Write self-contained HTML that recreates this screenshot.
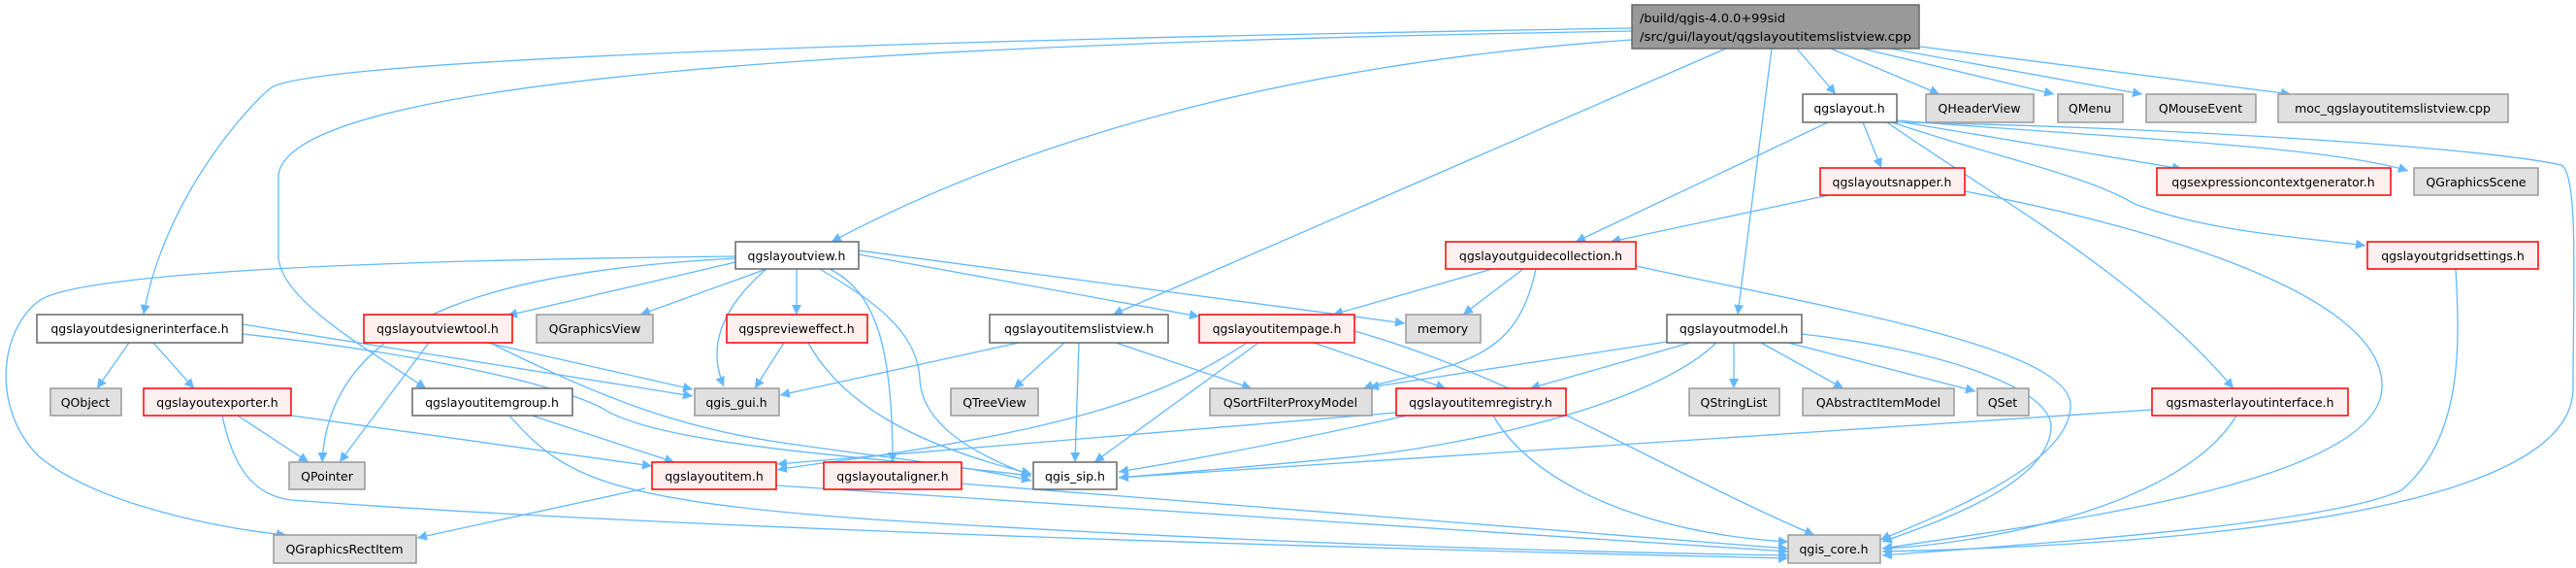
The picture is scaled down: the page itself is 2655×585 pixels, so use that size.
<!DOCTYPE html>
<html><head><meta charset="utf-8"><style>
html,body{margin:0;padding:0;background:#fff;}
svg{display:block;}
text{font-family:"DejaVu Sans","Liberation Sans",sans-serif;font-size:12.5px;fill:#000;}
.e{fill:none;stroke:#63b8ff;stroke-width:1.3;}
.w{fill:#fff;stroke:#666;stroke-width:1.5;}
.g{fill:#e0e0e0;stroke:#999;stroke-width:1.5;}
.r{fill:#fff0f0;stroke:#f00;stroke-width:1.5;}
.k{fill:#999;stroke:#666;stroke-width:1.5;}
</style></head><body>
<svg width="2655" height="585" viewBox="0 0 2655 585" xmlns="http://www.w3.org/2000/svg">
<defs><marker id="a" viewBox="0 0 10 10" refX="10" refY="5" markerWidth="10" markerHeight="10" markerUnits="userSpaceOnUse" orient="auto"><path d="M0,0 L10,5 L0,10 z" fill="#63b8ff"/></marker></defs>
<g class="e" marker-end="url(#a)">
<path d="M1682,29 C1000,40 330,60 280,90 C260,105 170,200 148,324"/>
<path d="M1682,32 C900,45 300,80 287,180 L287,265 C290,310 380,360 439,400"/>
<path d="M1682,41 C1400,60 1100,120 857,249"/>
<path d="M1779,50 L1147,324"/>
<path d="M1826,50 L1791,324"/>
<path d="M1852,50 L1892,97"/>
<path d="M1887,50 L1999,97"/>
<path d="M1919,50 L2117,97"/>
<path d="M1948,50 L2208,97"/>
<path d="M1979,48 L2361,97"/>
<path d="M1884,126 L1624,249"/>
<path d="M1920,126 L1939,173"/>
<path d="M1962,126 L2249,174"/>
<path d="M1955,124 C2150,140 2400,150 2482,176"/>
<path d="M1955,126 C2200,130 2550,150 2640,170 C2658,180 2652,300 2652,400 C2652,520 2300,560 1940,568"/>
<path d="M1950,126 C2050,160 2150,180 2200,210 C2280,240 2380,245 2438,253"/>
<path d="M1945,126 C2050,200 2200,280 2302,400"/>
<path d="M1885,201 L1660,249"/>
<path d="M2025,197 C2200,230 2460,300 2455,400 C2450,500 2100,540 1940,565"/>
<path d="M2531,277 C2535,350 2540,450 2475,505 C2400,540 2100,560 1940,572"/>
<path d="M2218,422 C1800,450 1400,475 1153,492"/>
<path d="M2305,428 C2250,520 2050,560 1940,565"/>
<path d="M1787,353 L1787,400"/>
<path d="M1815,353 L1900,400"/>
<path d="M1843,353 L2036,403"/>
<path d="M1857,344 C2000,360 2115,400 2114,440 C2112,500 1990,540 1940,558"/>
<path d="M1718,352 L1411,399"/>
<path d="M1742,353 L1577,400"/>
<path d="M1769,353 C1700,420 1500,460 1400,470 C1300,480 1200,488 1153,492"/>
<path d="M1538,277 L1374,324"/>
<path d="M1570,277 L1508,324"/>
<path d="M1583,277 C1570,340 1540,360 1500,375 C1450,390 1420,395 1405,400"/>
<path d="M1686,274 C1900,320 2140,360 2134,420 C2130,480 2000,530 1938,556"/>
<path d="M758,270 L523,325"/>
<path d="M790,277 L660,324"/>
<path d="M821,277 L821,324"/>
<path d="M790,277 C740,320 730,360 746,398"/>
<path d="M758,266 C500,280 340,330 332,476"/>
<path d="M758,264 C400,268 80,280 40,310 C0,340 -10,420 40,470 C100,520 230,545 295,551"/>
<path d="M885,258 L1448,333"/>
<path d="M885,262 L1236,326"/>
<path d="M855,277 C900,300 920,350 920,476"/>
<path d="M845,277 C900,310 945,340 948,390 C950,440 1010,470 1063,490"/>
<path d="M250,334 L714,408"/>
<path d="M250,344 C400,360 560,390 620,420 C680,460 900,470 1063,490"/>
<path d="M133,353 L100,400"/>
<path d="M158,353 L200,400"/>
<path d="M442,353 L350,476"/>
<path d="M502,353 L714,401"/>
<path d="M505,353 C620,410 700,440 800,455 C900,470 1000,480 1063,495"/>
<path d="M808,353 L778,400"/>
<path d="M833,353 C870,420 950,460 1063,488"/>
<path d="M245,428 L318,476"/>
<path d="M300,428 L672,480"/>
<path d="M229,428 C240,480 260,510 300,515 C700,545 1400,565 1843,575"/>
<path d="M548,428 L695,476"/>
<path d="M525,428 C580,490 620,515 900,535 C1300,560 1600,568 1843,572"/>
<path d="M665,503 L430,554"/>
<path d="M800,500 L1843,568"/>
<path d="M990,498 L1843,565"/>
<path d="M1050,353 L804,407"/>
<path d="M1097,353 L1045,400"/>
<path d="M1112,353 L1108,476"/>
<path d="M1150,353 L1290,400"/>
<path d="M1285,353 C1200,410 1100,440 900,470 C850,477 820,480 801,484"/>
<path d="M1297,353 L1128,476"/>
<path d="M1354,353 L1490,400"/>
<path d="M1396,341 C1500,370 1600,420 1700,470 C1760,500 1820,530 1870,551"/>
<path d="M1450,428 C1350,450 1250,470 1153,486"/>
<path d="M1439,425 L801,478"/>
<path d="M1539,428 C1580,500 1700,550 1843,558"/>
</g>
<g>
<rect class="k" x="1682" y="5" width="296" height="45"/>
<text x="1690" y="23" textLength="150" lengthAdjust="spacingAndGlyphs">/build/qgis-4.0.0+99sid</text>
<text x="1690" y="42" textLength="280" lengthAdjust="spacingAndGlyphs">/src/gui/layout/qgslayoutitemslistview.cpp</text>
</g>
<g text-anchor="middle">
<rect class="w" x="1858" y="97" width="97" height="29"/><text x="1906" y="116">qgslayout.h</text>
<rect class="g" x="1985" y="97" width="111" height="29"/><text x="2040" y="116">QHeaderView</text>
<rect class="g" x="2121" y="97" width="67" height="29"/><text x="2154" y="116">QMenu</text>
<rect class="g" x="2212" y="97" width="113" height="29"/><text x="2268" y="116">QMouseEvent</text>
<rect class="g" x="2348" y="97" width="237" height="29"/><text x="2466" y="116">moc_qgslayoutitemslistview.cpp</text>
<rect class="r" x="1876" y="173" width="149" height="28"/><text x="1950" y="192">qgslayoutsnapper.h</text>
<rect class="r" x="2223" y="173" width="241" height="28"/><text x="2343" y="192">qgsexpressioncontextgenerator.h</text>
<rect class="g" x="2488" y="173" width="128" height="28"/><text x="2552" y="192">QGraphicsScene</text>
<rect class="w" x="758" y="249" width="127" height="28"/><text x="821" y="268">qgslayoutview.h</text>
<rect class="r" x="1490" y="249" width="196" height="28"/><text x="1588" y="268">qgslayoutguidecollection.h</text>
<rect class="r" x="2440" y="249" width="176" height="28"/><text x="2528" y="268">qgslayoutgridsettings.h</text>
<rect class="w" x="38" y="324" width="212" height="29"/><text x="144" y="343">qgslayoutdesignerinterface.h</text>
<rect class="r" x="375" y="324" width="153" height="29"/><text x="451" y="343">qgslayoutviewtool.h</text>
<rect class="g" x="553" y="324" width="120" height="29"/><text x="613" y="343">QGraphicsView</text>
<rect class="r" x="749" y="324" width="145" height="29"/><text x="821" y="343">qgspreviewеffect.h</text>
<rect class="w" x="1020" y="324" width="184" height="29"/><text x="1112" y="343">qgslayoutitemslistview.h</text>
<rect class="r" x="1236" y="324" width="160" height="29"/><text x="1316" y="343">qgslayoutitempage.h</text>
<rect class="g" x="1449" y="324" width="77" height="29"/><text x="1487" y="343">memory</text>
<rect class="w" x="1718" y="324" width="139" height="29"/><text x="1787" y="343">qgslayoutmodel.h</text>
<rect class="g" x="52" y="400" width="73" height="28"/><text x="88" y="419">QObject</text>
<rect class="r" x="148" y="400" width="152" height="28"/><text x="224" y="419">qgslayoutexporter.h</text>
<rect class="w" x="425" y="400" width="165" height="28"/><text x="507" y="419">qgslayoutitemgroup.h</text>
<rect class="g" x="716" y="400" width="87" height="28"/><text x="759" y="419">qgis_gui.h</text>
<rect class="g" x="980" y="400" width="90" height="28"/><text x="1025" y="419">QTreeView</text>
<rect class="g" x="1247" y="400" width="167" height="28"/><text x="1330" y="419">QSortFilterProxyModel</text>
<rect class="r" x="1439" y="400" width="175" height="28"/><text x="1526" y="419">qgslayoutitemregistry.h</text>
<rect class="g" x="1741" y="400" width="93" height="28"/><text x="1787" y="419">QStringList</text>
<rect class="g" x="1858" y="400" width="156" height="28"/><text x="1936" y="419">QAbstractItemModel</text>
<rect class="g" x="2038" y="400" width="53" height="28"/><text x="2064" y="419">QSet</text>
<rect class="r" x="2218" y="400" width="202" height="28"/><text x="2319" y="419">qgsmasterlayoutinterface.h</text>
<rect class="g" x="298" y="476" width="78" height="28"/><text x="337" y="495">QPointer</text>
<rect class="r" x="672" y="476" width="128" height="28"/><text x="736" y="495">qgslayoutitem.h</text>
<rect class="r" x="849" y="476" width="142" height="28"/><text x="920" y="495">qgslayoutaligner.h</text>
<rect class="w" x="1065" y="476" width="86" height="28"/><text x="1108" y="495">qgis_sip.h</text>
<rect class="g" x="282" y="551" width="147" height="29"/><text x="355" y="570">QGraphicsRectItem</text>
<rect class="g" x="1843" y="551" width="95" height="29"/><text x="1890" y="570">qgis_core.h</text>
</g>
</svg>
</body></html>
